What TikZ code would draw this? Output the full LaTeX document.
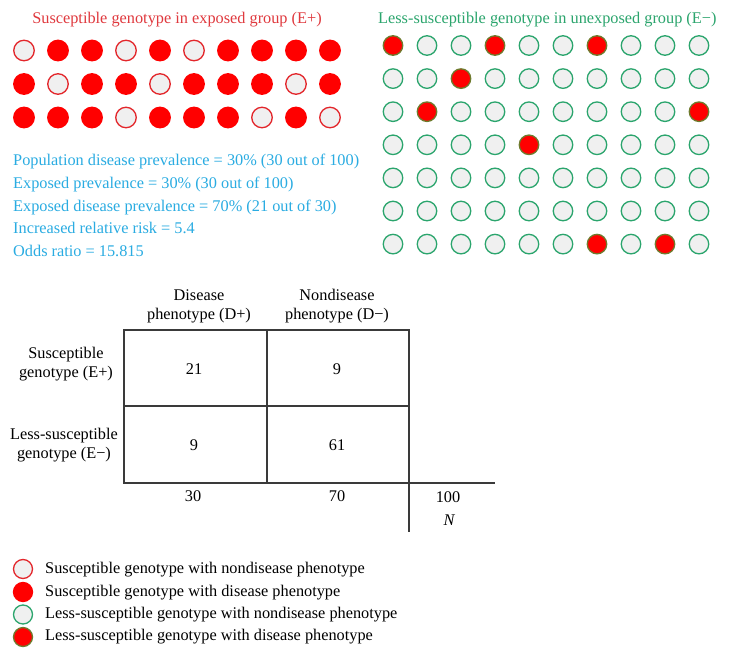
\documentclass[tikz,border=0pt]{standalone}
\usepackage{fontspec}
\setmainfont{Liberation Serif}
\definecolor{redfill}{HTML}{FF0000}
\definecolor{redline}{HTML}{E3262B}
\definecolor{titlered}{HTML}{E0393E}
\definecolor{greenline}{HTML}{2BA56D}
\definecolor{greentitle}{HTML}{2BA56D}
\definecolor{oliveline}{HTML}{6E7B2E}
\definecolor{grayfill}{HTML}{F0F0F0}
\definecolor{cyantext}{HTML}{2AACE2}
\definecolor{tableline}{HTML}{3A3A3A}
\begin{document}
\begin{tikzpicture}[x=1pt,y=-1pt,
  txt/.style={inner sep=0pt,font=\fontsize{16.3}{19}\selectfont},
  lopen/.style={circle,draw=redline,fill=grayfill,line width=1.3pt,minimum size=20.5pt,inner sep=0pt},
  lfull/.style={circle,draw=redfill,fill=redfill,line width=1.3pt,minimum size=20.5pt,inner sep=0pt},
  ropen/.style={circle,draw=greenline,fill=grayfill,line width=1.3pt,minimum size=19.5pt,inner sep=0pt},
  rfull/.style={circle,draw=oliveline,fill=redfill,line width=1.3pt,minimum size=19.5pt,inner sep=0pt},
  grid/.style={draw=tableline,line width=1.2pt}]
\path[use as bounding box,fill=white] (0,0) rectangle (729,659);

% titles
\node[txt,text=titlered,anchor=base] (tl) at (177,23) {Susceptible genotype in exposed group (E+)};
\node[txt,text=greentitle,anchor=base west] (tr) at (378,23) {Less-susceptible genotype in unexposed group (E−)};

% left grid (E+)
\foreach \r/\p in {0/{0,1,1,0,1,0,1,1,1,1},1/{1,0,1,1,0,1,1,1,0,1},2/{1,1,1,0,1,1,1,0,1,0}}{
  \foreach \v [count=\c from 0] in \p {
    \ifnum\v=1
      \node[lfull] (L\r-\c) at (24+34*\c,50.5+33.5*\r) {};
    \else
      \node[lopen] (L\r-\c) at (24+34*\c,50.5+33.5*\r) {};
    \fi
  }
}

% right grid (E-)
\foreach \r/\p in {0/{1,0,0,1,0,0,1,0,0,0},1/{0,0,1,0,0,0,0,0,0,0},2/{0,1,0,0,0,0,0,0,0,1},3/{0,0,0,0,1,0,0,0,0,0},4/{0,0,0,0,0,0,0,0,0,0},5/{0,0,0,0,0,0,0,0,0,0},6/{0,0,0,0,0,0,1,0,1,0}}{
  \foreach \v [count=\c from 0] in \p {
    \ifnum\v=1
      \node[rfull] (R\r-\c) at (393+34*\c,45.5+33.1*\r) {};
    \else
      \node[ropen] (R\r-\c) at (393+34*\c,45.5+33.1*\r) {};
    \fi
  }
}

% statistics text
\node[txt,text=cyantext,anchor=base west] (s1) at (13,165) {Population disease prevalence = 30\% (30 out of 100)};
\node[txt,text=cyantext,anchor=base west] (s2) at (13,188) {Exposed prevalence = 30\% (30 out of 100)};
\node[txt,text=cyantext,anchor=base west] (s3) at (13,211) {Exposed disease prevalence = 70\% (21 out of 30)};
\node[txt,text=cyantext,anchor=base west] (s4) at (13,233.5) {Increased relative risk = 5.4};
\node[txt,text=cyantext,anchor=base west] (s5) at (13,256) {Odds ratio = 15.815};

% table
\draw[grid] (124,330) rectangle (409,483);
\draw[grid] (267,330) -- (267,483);
\draw[grid] (124,406) -- (409,406);
\draw[grid] (409,483) -- (495,483);
\draw[grid] (409,483) -- (409,532);

\node[txt,align=center] (h1) at (199,306.5) {Disease\\phenotype (D+)};
\node[txt,align=center] (h2) at (337,306.5) {Nondisease\\phenotype (D−)};
\node[txt,align=center] (r1) at (66,364.5) {Susceptible\\genotype (E+)};
\node[txt,align=center] (r2) at (64,445.5) {Less-susceptible\\genotype (E−)};

\node[txt,anchor=base] (c11) at (194,374) {21};
\node[txt,anchor=base] (c12) at (337,374) {9};
\node[txt,anchor=base] (c21) at (194,450) {9};
\node[txt,anchor=base] (c22) at (337,450) {61};
\node[txt,anchor=base] (t1) at (193,501) {30};
\node[txt,anchor=base] (t2) at (337,501) {70};
\node[txt,anchor=base] (t3) at (448,502) {100};
\node[txt,anchor=base] (tn) at (449,525) {\itshape N};

% legend
\node[lopen,minimum size=19pt] (g1) at (23,569) {};
\node[lfull,minimum size=19pt] (g2) at (23,592) {};
\node[ropen,minimum size=19pt] (g3) at (23,614.5) {};
\node[rfull,minimum size=19pt] (g4) at (23,637) {};
\node[txt,anchor=base west] (gt1) at (45,573) {Susceptible genotype with nondisease phenotype};
\node[txt,anchor=base west] (gt2) at (45,596) {Susceptible genotype with disease phenotype};
\node[txt,anchor=base west] (gt3) at (45,618) {Less-susceptible genotype with nondisease phenotype};
\node[txt,anchor=base west] (gt4) at (45,640.5) {Less-susceptible genotype with disease phenotype};
\end{tikzpicture}
\end{document}
